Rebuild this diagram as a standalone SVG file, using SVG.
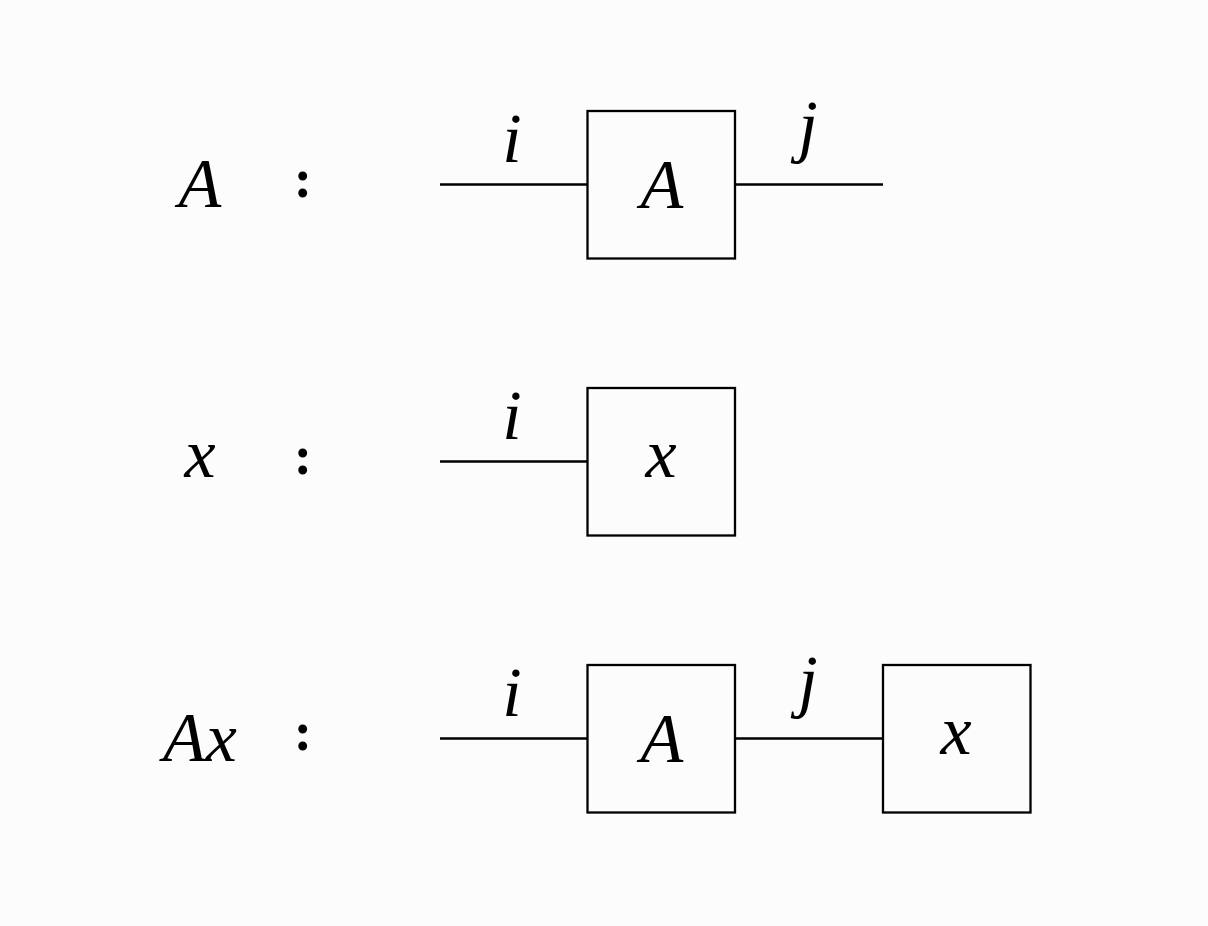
<svg xmlns="http://www.w3.org/2000/svg" width="1208" height="926" viewBox="0 0 1208 926">
<style>
.bg{fill:#fcfcfc}
.box{fill:#fcfcfc;stroke:#000;stroke-width:2.3}
.wire{stroke:#000;stroke-width:2.3;fill:none}
.m{font-family:"Liberation Serif","DejaVu Serif",serif;font-style:italic;font-size:70px;fill:#000;text-anchor:middle}
.c{font-family:"Liberation Serif","DejaVu Serif",serif;font-weight:bold;font-size:55px;fill:#000;text-anchor:middle}
</style>
<rect class="bg" x="0" y="0" width="1208" height="926"/>
<g id="connectors">
<line class="wire" x1="440" y1="184.5" x2="587" y2="184.5"/>
<line class="wire" x1="735" y1="184.5" x2="883" y2="184.5"/>
<line class="wire" x1="440" y1="461.5" x2="587" y2="461.5"/>
<line class="wire" x1="440" y1="738.5" x2="587" y2="738.5"/>
<line class="wire" x1="735" y1="738.5" x2="883" y2="738.5"/>
<text class="m" x="512" y="162">i</text>
<text class="m" x="808" y="149">j</text>
<text class="m" x="512" y="439">i</text>
<text class="m" x="512" y="716">i</text>
<text class="m" x="808" y="704">j</text>
</g>
<g id="label-A">
<text class="m" x="200" y="207">A</text>
<text class="c" x="303" y="197">:</text>
</g>
<g id="label-x">
<text class="m" x="200" y="477">x</text>
<text class="c" x="303" y="474">:</text>
</g>
<g id="label-Ax">
<text class="m" x="200" y="761">Ax</text>
<text class="c" x="303" y="750">:</text>
</g>
<g id="node-A1">
<rect class="box" x="587.5" y="111" width="147.5" height="147.5"/>
<text class="m" x="662" y="208">A</text>
</g>
<g id="node-x2">
<rect class="box" x="587.5" y="388" width="147.5" height="147.5"/>
<text class="m" x="661" y="477">x</text>
</g>
<g id="node-A3">
<rect class="box" x="587.5" y="665" width="147.5" height="147.5"/>
<text class="m" x="662" y="762">A</text>
</g>
<g id="node-x3">
<rect class="box" x="883" y="665" width="147.5" height="147.5"/>
<text class="m" x="956" y="754">x</text>
</g>
</svg>
